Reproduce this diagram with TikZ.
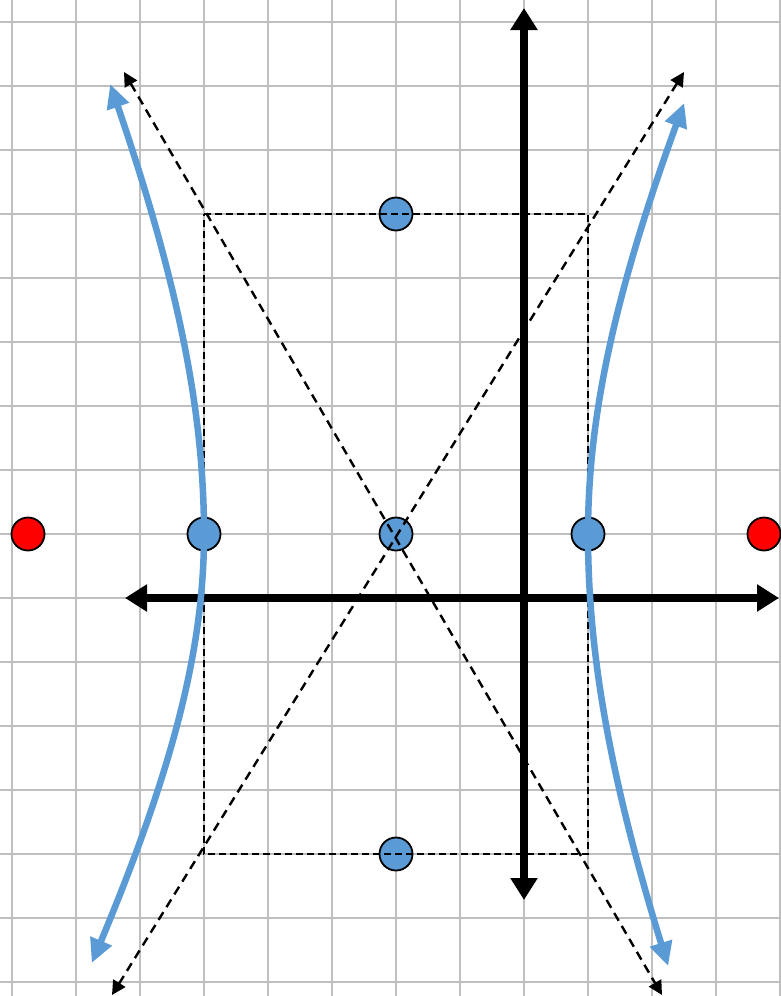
\documentclass[tikz,border=0pt]{standalone}
\usetikzlibrary{arrows.meta}
\definecolor{gridgray}{HTML}{BFBFBF}
\definecolor{hypblue}{HTML}{5B9BD5}
\definecolor{focred}{HTML}{FF0000}
\tikzset{
  gridline/.style={draw=gridgray, line width=2pt},
  axisline/.style={line width=8.5pt, {Triangle[length=22pt,width=26pt]}-{Triangle[length=22pt,width=26pt]}},
  asym/.style={line width=2.4pt, dash pattern=on 9pt off 6pt, {Triangle[length=14pt,width=14pt]}-{Triangle[length=14pt,width=14pt]}},
  boxline/.style={line width=1.8pt, dash pattern=on 7pt off 4pt},
  branch/.style={draw=hypblue, line width=6.5pt, {Triangle[length=24pt,width=22pt]}-{Triangle[length=24pt,width=22pt]}},
  dotpt/.style={circle, draw=black, line width=1.8pt, minimum size=33pt, inner sep=0pt},
  bluept/.style={dotpt, fill=hypblue},
  redpt/.style={dotpt, fill=focred},
}
\begin{document}
\begin{tikzpicture}[x=1pt, y=-1pt]
\useasboundingbox (0,0) rectangle (780,996);
\fill[white] (0,0) rectangle (780,996);
% grid
\foreach \gx in {12,76,...,780} \draw[gridline] (\gx,0) -- (\gx,996);
\foreach \gy in {22,86,...,996} \draw[gridline] (0,\gy) -- (780,\gy);
% points
\node[redpt] (f1) at (28,534) {};
\node[redpt] (f2) at (764,534) {};
\node[bluept] (ctr) at (396,534) {};
\node[bluept] (v1) at (204,534) {};
\node[bluept] (v2) at (588,534) {};
\node[bluept] (cv1) at (396,214) {};
\node[bluept] (cv2) at (396,854) {};
% axes
\coordinate (xl) at (125,598);
\coordinate (xr) at (779,598);
\coordinate (yt) at (524,8);
\coordinate (yb) at (524,900);
\draw[axisline] (xl) -- (xr);
\draw[axisline] (yb) -- (yt);
% box
\coordinate (bA) at (204,214);
\coordinate (bB) at (588,214);
\coordinate (bC) at (588,854);
\coordinate (bD) at (204,854);
\draw[boxline] (bA) -- (bB) -- (bC) -- (bD) -- cycle;
% asymptotes
\coordinate (a1) at (124,72);
\coordinate (a2) at (662,995);
\coordinate (a3) at (684,72);
\coordinate (a4) at (112,995);
\draw[asym] (a1) -- (a2);
\draw[asym] (a4) -- (a3);
% hyperbola branches
\draw[branch] plot[variable=\t, domain=-431:432, samples=90, smooth]
  ({396+192*sqrt(1+(\t/ifthenelse(\t<0,385,430))^2)}, {534+\t});
\draw[branch] plot[variable=\t, domain=-450:429, samples=90, smooth]
  ({396-192*sqrt(1+(\t/ifthenelse(\t<0,408,349))^2)}, {534+\t});
\end{tikzpicture}
\end{document}
